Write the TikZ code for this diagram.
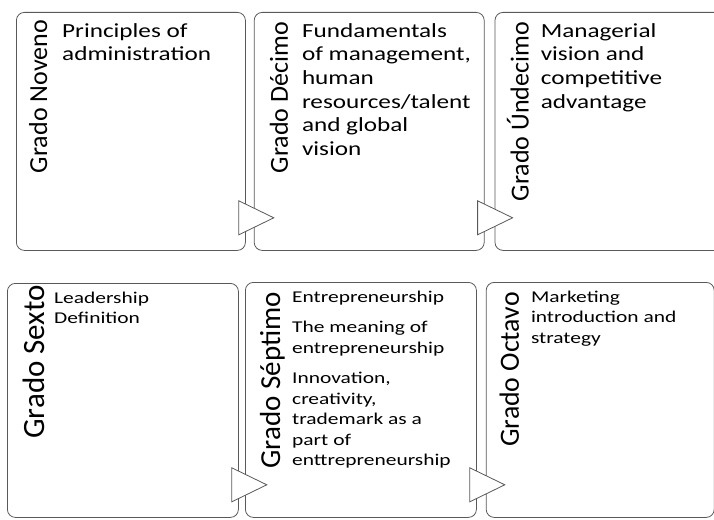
\documentclass[tikz,border=0pt]{standalone}
\usepackage{fontspec}
\setmainfont{Carlito}
\newfontfamily\bodyfont{Carlito}[FakeStretch=1.3]
\newfontfamily\upperfont{Carlito}[FakeStretch=1.26]
\usetikzlibrary{calc}
\usetikzlibrary{positioning}
\definecolor{boxgray}{HTML}{595959}

\begin{document}
\begin{tikzpicture}[x=1pt, y=-1pt]
    \tikzstyle{gradebox}=[draw=boxgray, line width=0.8pt, rounded corners=8pt,
                          inner sep=0pt, anchor=north west]
    \tikzstyle{gradelabel}=[rotate=90, anchor=base east, inner sep=0pt]
    \tikzstyle{topics}=[anchor=north west, inner sep=0pt, align=left]
    \tikzstyle{handoff}=[draw=boxgray, fill=white, line width=0.8pt]
    \useasboundingbox (0,0) rectangle (714,519);
    \clip (0,0) rectangle (714,519);
    % Upper row of grades
    \node[gradebox, minimum width=229pt, minimum height=238pt] (noveno) at (16,12) {};
    \node[gradebox, minimum width=230pt, minimum height=238pt, right=8pt of noveno] (decimo) {};
    \node[gradebox, minimum width=232pt, minimum height=238pt, right=10pt of decimo] (undecimo) {};
    % Lower row of grades
    \node[gradebox, minimum width=231pt, minimum height=234pt] (sexto) at (7,283) {};
    \node[gradebox, minimum width=231pt, minimum height=235pt] (septimo) at (245,282) {};
    \node[gradebox, minimum width=228pt, minimum height=235pt, right=9pt of septimo] (octavo) {};
    % Arrows between the grades
    \foreach \from/\to in {noveno/decimo, decimo/undecimo, sexto/septimo, septimo/octavo}
        \draw[handoff] ($(\from.south east)+(-7,-50)$) -- ++(35,17) -- ++(-35,17) -- cycle;
    % Grade names
    \node[gradelabel, font=\fontsize{26}{26}\selectfont] (lnoveno) at ($(noveno.north west)+(31,8)$) {Grado Noveno};
    \node[gradelabel, font=\fontsize{26}{26}\selectfont] (ldecimo) at ($(decimo.north west)+(34,10)$) {Grado Décimo};
    \node[gradelabel, font=\fontsize{26}{26}\selectfont] (lundecimo) at ($(undecimo.north west)+(34,10)$) {Grado Úndecimo};
    \node[gradelabel, font=\fontsize{31}{31}\selectfont] (lsexto) at ($(sexto.north west)+(37,2)$) {Grado Sexto};
    \node[gradelabel, font=\fontsize{29}{29}\selectfont] (lseptimo) at ($(septimo.north west)+(35,10)$) {Grado Séptimo};
    \node[gradelabel, font=\fontsize{27.8}{27.8}\selectfont] (loctavo) at ($(octavo.north west)+(33,10)$) {Grado Octavo};
    % Topics of each grade (first baseline 25pt / 20pt below the box top)
    \node[topics, font=\upperfont\fontsize{20}{23.6}\selectfont] (tnoveno) at ($(noveno.north west)+(46,8.5)$)
        {\strut Principles of\\administration};
    \node[topics, font=\upperfont\fontsize{20}{23.6}\selectfont] (tdecimo) at ($(decimo.north west)+(48,8.5)$)
        {\strut Fundamentals\\of management,\\human\\resources/talent\\and global\\vision};
    \node[topics, font=\upperfont\fontsize{20}{23.6}\selectfont] (tundecimo) at ($(undecimo.north west)+(46,8.5)$)
        {\strut Managerial\\vision and\\competitive\\advantage};
    \node[topics, font=\bodyfont\fontsize{16.5}{20.5}\selectfont] (tsexto) at ($(sexto.north west)+(47,5.6)$)
        {\strut Leadership\\Definition};
    \node[topics, font=\bodyfont\fontsize{16.5}{20.5}\selectfont] (tseptimo) at ($(septimo.north west)+(47,5.6)$)
        {\strut Entrepreneurship\\[10pt]The meaning of\\entrepreneurship\\[10pt]Innovation,\\creativity,\\trademark as a\\part of\\enttrepreneurship};
    \node[topics, font=\bodyfont\fontsize{16.5}{20.5}\selectfont] (toctavo) at ($(octavo.north west)+(45,5.6)$)
        {\strut Marketing\\introduction and\\strategy};
\end{tikzpicture}
\end{document}
